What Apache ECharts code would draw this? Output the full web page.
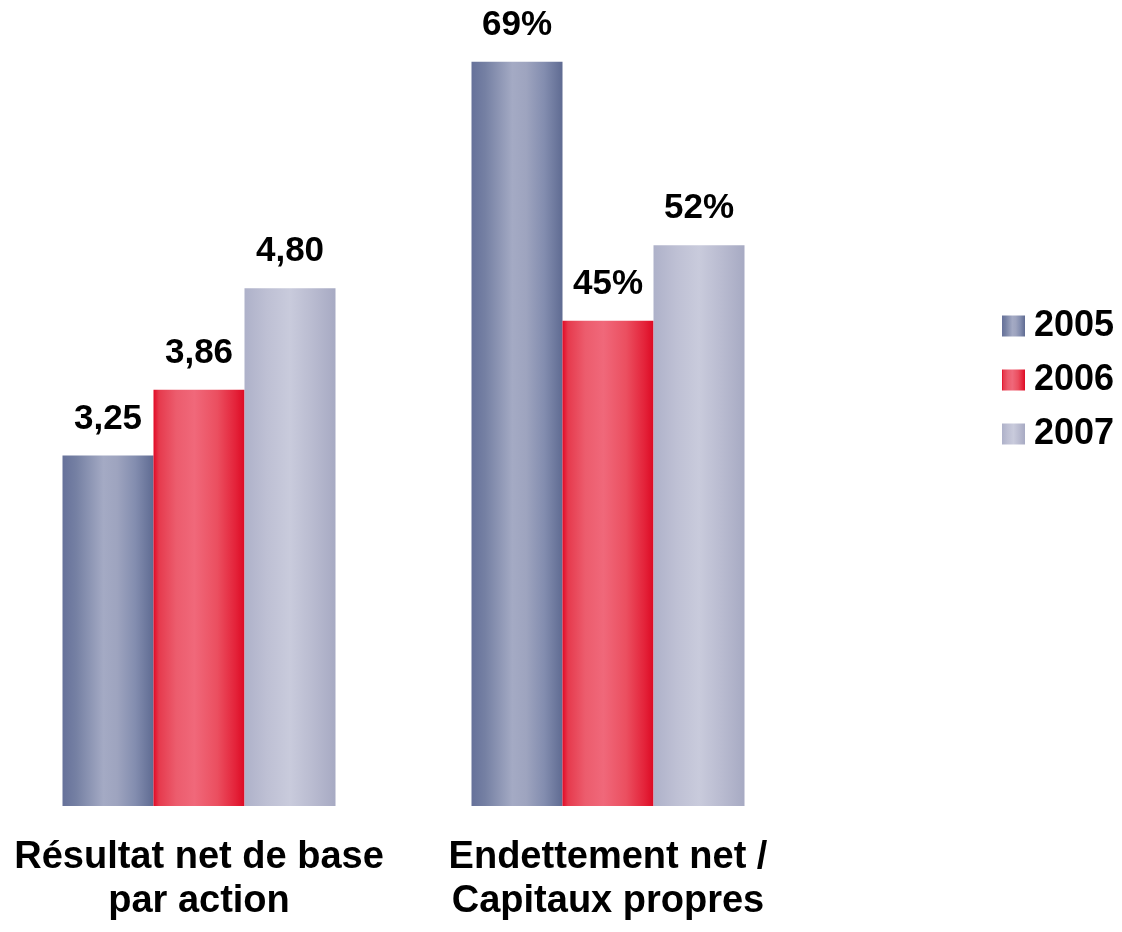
<!DOCTYPE html>
<html><head><meta charset="utf-8">
<script src="https://cdn.jsdelivr.net/npm/echarts@6/dist/echarts.min.js"></script>
<style>html,body{margin:0;padding:0;background:#fff}#c{width:1122px;height:932px}</style>
</head><body><div id="c"></div>
<script>
const years = ['2005', '2006', '2007'];
const categories = ['Résultat net de base\npar action', 'Endettement net /\nCapitaux propres'];
const epsValues = [3.25, 3.86, 4.80];      // group 1
const gearingValues = [69, 45, 52];        // group 2 (%)
const epsLabels = ['3,25', '3,86', '4,80'];
const gearingLabels = ['69%', '45%', '52%'];

function grad(stops) {
  return new echarts.graphic.LinearGradient(0, 0, 1, 0, stops.map(s => ({offset: s[0], color: s[1]})));
}
const fills = [
  grad([[0,'#66719a'],[0.15,'#7580a3'],[0.45,'#a4aac4'],[0.6,'#9ea4bf'],[0.8,'#838daf'],[1,'#5f6b92']]),
  grad([[0,'#e20a26'],[0.06,'#e63a4d'],[0.25,'#ec5c6d'],[0.45,'#f0687a'],[0.7,'#eb4f60'],[0.9,'#e4233a'],[1,'#dd0a24']]),
  grad([[0,'#aeb1c9'],[0.25,'#bec0d4'],[0.5,'#c9cbdc'],[0.75,'#b9bbd0'],[1,'#a7aac3']])
];

const font = "'Liberation Sans', Arial, sans-serif";

const chart = echarts.init(document.getElementById('c'), null, {renderer: 'canvas'});
const labelStyle = {show: true, position: 'top', distance: 19,
  fontFamily: font, fontWeight: 'bold', fontSize: 35, color: '#000'};
const series = [];
years.forEach((y, i) => {
  series.push({
    name: y, type: 'bar', xAxisIndex: 0, yAxisIndex: 0,
    barWidth: 91, barGap: '0%', clip: false,
    itemStyle: {color: fills[i]},
    label: Object.assign({formatter: () => epsLabels[i]}, labelStyle),
    data: [epsValues[i]]
  });
  series.push({
    name: y, type: 'bar', xAxisIndex: 1, yAxisIndex: 1,
    barWidth: 91, barGap: '0%', clip: false,
    itemStyle: {color: fills[i]},
    label: Object.assign({formatter: () => gearingLabels[i]}, labelStyle),
    data: [gearingValues[i]]
  });
});

const xAxisCommon = {
  type: 'category', axisLine: {show: false}, axisTick: {show: false},
  axisLabel: {margin: 30, fontFamily: font, fontWeight: 'bold', fontSize: 38, lineHeight: 44, color: '#000'}
};
const yAxisCommon = {type: 'value', min: 0, show: false, splitLine: {show: false}};

chart.setOption({
  animation: false,
  backgroundColor: '#fff',
  grid: [
    {left: 59, width: 280, top: 51, bottom: 126},
    {left: 468, width: 280, top: 51, bottom: 126}
  ],
  xAxis: [
    Object.assign({gridIndex: 0, data: [categories[0]]}, xAxisCommon),
    Object.assign({gridIndex: 1, data: [categories[1]]}, xAxisCommon)
  ],
  yAxis: [
    Object.assign({gridIndex: 0, max: 7}, yAxisCommon),
    Object.assign({gridIndex: 1, max: 70}, yAxisCommon)
  ],
  legend: {
    orient: 'vertical', left: 997, top: 303,
    itemWidth: 23, itemHeight: 21, itemGap: 18,
    data: years.map((y, i) => ({name: y, icon: 'rect', itemStyle: {color: fills[i]}})),
    textStyle: {fontFamily: font, fontWeight: 'bold', fontSize: 36, color: '#000', lineHeight: 36, padding: [0, 0, 0, 4]}
  },
  series: series
});
</script></body></html>
